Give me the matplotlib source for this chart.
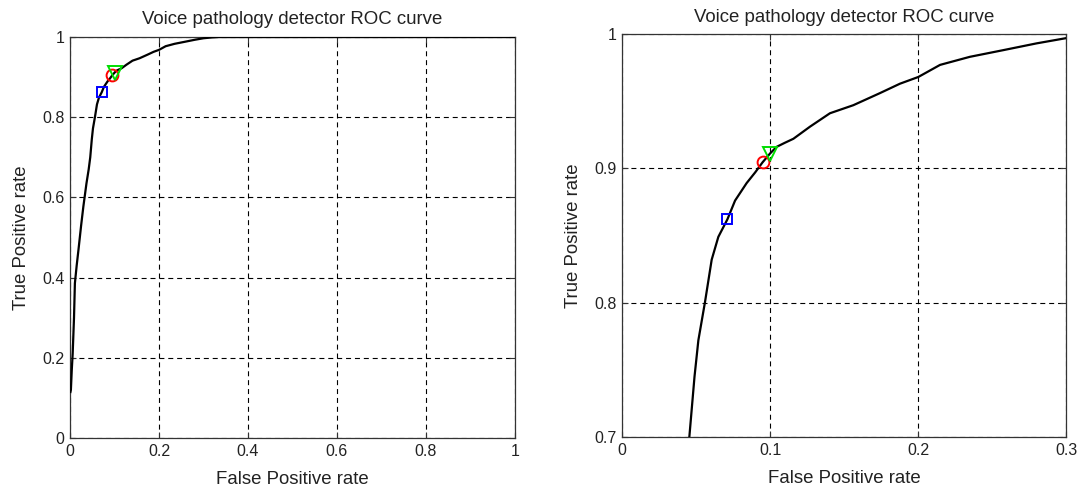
import matplotlib
matplotlib.use("Agg")
import matplotlib.pyplot as plt

plt.rcParams['font.family'] = ['Liberation Sans', 'DejaVu Sans']

# ROC curve values
fpr = [0.001, 0.002, 0.004, 0.006, 0.009, 0.011, 0.015, 0.019, 0.025, 0.030,
       0.037, 0.042, 0.0455, 0.0490, 0.0516, 0.0561, 0.0606, 0.0651, 0.0712, 0.0764,
       0.0842, 0.0900, 0.0950, 0.1000, 0.1045, 0.1100, 0.1158, 0.127, 0.1405, 0.1563, 0.1743,
       0.1878, 0.2002, 0.2149, 0.235, 0.2577, 0.280, 0.300, 0.32, 0.335, 0.5, 1.0]
tpr = [0.115, 0.12, 0.17, 0.21, 0.30, 0.386, 0.43, 0.469, 0.53, 0.577,
       0.635, 0.67, 0.70, 0.745, 0.772, 0.8006, 0.832, 0.849, 0.862, 0.876,
       0.889, 0.897, 0.9045, 0.911, 0.916, 0.919, 0.922, 0.931, 0.941, 0.947, 0.956,
       0.963, 0.968, 0.977, 0.983, 0.988, 0.993, 0.9969, 0.999, 1.0, 1.0, 1.0]

# operating points
square_pt = (0.0712, 0.862)
circle_pt = (0.0950, 0.9045)
triangle_pt = (0.1002, 0.9107)

title = "Voice pathology detector ROC curve"
xlabel = "False Positive rate"
ylabel = "True Positive rate"

left_xticks = [0, 0.2, 0.4, 0.6, 0.8, 1]
left_xticklabels = ["0", "0.2", "0.4", "0.6", "0.8", "1"]
left_yticks = [0, 0.2, 0.4, 0.6, 0.8, 1]
left_yticklabels = ["0", "0.2", "0.4", "0.6", "0.8", "1"]
right_xticks = [0, 0.1, 0.2, 0.3]
right_xticklabels = ["0", "0.1", "0.2", "0.3"]
right_yticks = [0.7, 0.8, 0.9, 1.0]
right_yticklabels = ["0.7", "0.8", "0.9", "1"]

fig = plt.figure(figsize=(10.78, 4.92), dpi=100)
ax1 = fig.add_axes([70/1078, 1-438/492, 445/1078, 401/492])
ax2 = fig.add_axes([622/1078, 1-437/492, 444/1078, 403/492])

def style(ax, xlim, ylim, xt, xtl, yt, ytl, tpad):
    ax.plot(fpr, tpr, color='black', lw=1.6, zorder=3)
    ax.plot(*square_pt, marker='s', ms=7.5, mfc='none', mec='#0000ff', mew=1.4, zorder=4)
    ax.plot(*circle_pt, marker='o', ms=8.5, mfc='none', mec='#ff0000', mew=1.4, zorder=4)
    ax.plot(*triangle_pt, marker='v', ms=10.5, mfc='none', mec='#00dd00', mew=1.4, zorder=5)
    ax.set_xlim(*xlim)
    ax.set_ylim(*ylim)
    ax.set_xticks(xt)
    ax.set_xticklabels(xtl)
    ax.set_yticks(yt)
    ax.set_yticklabels(ytl)
    ax.grid(True, color='black', linestyle=(0, (4.5, 3.5)), lw=0.8)
    ax.tick_params(direction='in', top=True, right=True, length=4, labelsize=11.5,
                   colors='#333333', labelcolor='#222222', pad=4)
    for s in ax.spines.values():
        s.set_color('#333333')
        s.set_linewidth(0.9)
    ax.set_title(title, fontsize=13.4, color='#222222', pad=tpad)
    ax.set_xlabel(xlabel, fontsize=13.4, color='#222222', labelpad=9)
    ax.set_ylabel(ylabel, fontsize=13.4, color='#222222', labelpad=9)

style(ax1, (0, 1), (0, 1), left_xticks, left_xticklabels, left_yticks, left_yticklabels, 9)
style(ax2, (0, 0.3), (0.7, 1.0), right_xticks, right_xticklabels, right_yticks, right_yticklabels, 9)

fig.savefig("out.png", dpi=100)
